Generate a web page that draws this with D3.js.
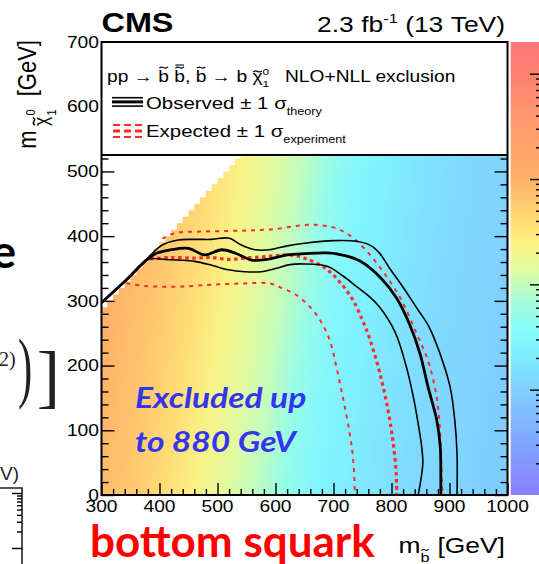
<!DOCTYPE html>
<html>
<head>
<meta charset="utf-8">
<script src="https://cdn.jsdelivr.net/npm/d3@7"></script>
<style>
  html, body { margin: 0; padding: 0; background: #fff; overflow: hidden; }
  svg { display: block; }
</style>
</head>
<body>
<svg id="chart" width="539" height="564"></svg>
<script>
// ---------------- data ----------------
// Axis ranges and tick labels (GeV)
const xTicks = [300, 400, 500, 600, 700, 800, 900, 1000];
const yTicks = [0, 100, 200, 300, 400, 500, 600, 700];

// Observed 95% CL upper limit on the cross section [pb] along m(sbottom)
const limitMass = [300, 350, 400, 450, 500, 550, 600, 650, 700, 750, 800, 850, 900, 950, 1000];
const limitXsec = [1.1, 0.76, 0.57, 0.38, 0.23, 0.155, 0.10, 0.052, 0.030, 0.024, 0.018, 0.014, 0.012, 0.011, 0.0093];

// Exclusion contours: [m(sbottom), m(neutralino)] in GeV
const obsCentral = [[300,297],[340,330],[389,371],[421,379],[450,381],[478,371],[507,379],[530,374],[559,363],[590,365],[620,371],[650,373],[690,374],[720,370],[745,362],[780,337],[809,304],[832,262],[849,219],[863,167],[878,116],[884,75],[885,30],[885,0]];
const obsUp = [[300,297],[350,338],[404,386],[432,394],[461,395],[490,395],[519,397],[542,386],[565,379],[590,379],[620,385],[650,389],[700,393],[740,392],[765,385],[780,373],[797,350],[820,321],[845,287],[864,261],[883,220],[901,167],[909,116],[913,64],[913,0]];
const obsDown = [[300,297],[350,339],[380,364],[410,364],[432,363],[461,361],[490,355],[519,348],[547,345],[576,345],[600,350],[625,356],[650,357],[690,353],[717,338],[740,322],[760,308],[778,292],[806,252],[825,200],[838,150],[846,110],[852,75],[854,49],[850,20],[846,0]];
const expCentral = [[384,365],[420,367],[461,366],[490,367],[519,364],[547,366],[576,368],[600,370],[625,371],[650,366],[685,351],[710,330],[733,302],[750,270],[763,240],[780,188],[794,131],[803,80],[808,35],[809,0]];
const expUp = [[405,396],[427,405],[470,407],[519,408],[560,409],[599,411],[648,417],[677,417],[705,412],[734,397],[763,371],[792,337],[818,300],[843,250],[864,205],[878,150],[884,95],[886,44],[888,0]];
const expDown = [[343,327],[375,323],[432,322],[490,325],[547,327],[590,327],[613,319],[636,309],[659,291],[677,270],[694,238],[705,198],[717,147],[728,95],[734,54],[737,0]];

// Colour palette of the z axis (fraction of the log range -> colour)
const paletteStops  = [0, 0.1, 0.21, 0.32, 0.37, 0.43, 0.5, 0.56, 0.63, 0.7, 0.85, 0.93, 1];
const paletteColors = ["#8a80ff","#80a0ff","#80c8ff","#80f0ff","#88fcf8","#a8fcd8","#e0fca0","#fff080","#ffd070","#ffb068","#ff9570","#ff8070","#ff7a7a"];
const zDomain = [1e-3, 20];

// ---------------- setup ----------------
const SX = 1.2;                       // horizontal stretch of the figure text
const ROOTFONT = "'Liberation Sans', Arial, Helvetica, 'DejaVu Sans', sans-serif";
const SLIDEFONT = "Lato, 'Open Sans', 'Noto Sans', sans-serif";

const svg = d3.select("#chart").style("font-family", ROOTFONT);
const defs = svg.append("defs");

const x = d3.scaleLinear().domain([300, 1000]).range([101.5, 507.5]);
const y = d3.scaleLinear().domain([0, 700]).range([495, 42]);
const zAxisScale = d3.scaleLog().domain(zDomain).range([495, 42]);
const zFrac = d3.scaleLog().domain(zDomain).range([0, 1]).clamp(true);
const palette = d3.scaleLinear().domain(paletteStops).range(paletteColors).interpolate(d3.interpolateRgb);
const colorOf = v => palette(zFrac(v));

defs.append("clipPath").attr("id", "plotClip").append("rect")
  .attr("x", x(300)).attr("y", y(700))
  .attr("width", x(1000) - x(300)).attr("height", y(0) - y(700));

// ---------------- heat map of the limit ----------------
const theta = Math.atan2(40, 280);    // slight tilt of the iso-limit bands
const cT = Math.cos(theta), sT = Math.sin(theta);
const W0 = x(1000) - x(300), yRef = y(250);
const grad = defs.append("linearGradient").attr("id", "xsecFill")
  .attr("gradientUnits", "userSpaceOnUse")
  .attr("x1", x(300)).attr("y1", yRef)
  .attr("x2", x(300) + W0 * cT * cT).attr("y2", yRef + W0 * cT * sT);
limitMass.forEach((m, i) => {
  grad.append("stop").attr("offset", (x(m) - x(300)) / W0).attr("stop-color", colorOf(limitXsec[i]));
});

// kinematically allowed cells (10 GeV binning, m(neutralino) <= m(sbottom) - 10)
const binW = 10;
const hp = d3.path();
hp.moveTo(x(300), y(0));
for (let m = 300; m < 1000; m += binW) {
  const top = Math.min(m - binW, 700);
  hp.lineTo(x(m), y(top));
  hp.lineTo(x(m + binW), y(top));
}
hp.lineTo(x(1000), y(0));
hp.closePath();
svg.append("path").attr("d", hp.toString()).attr("fill", "url(#xsecFill)")
  .attr("clip-path", "url(#plotClip)");

// ---------------- contours ----------------
const line = d3.line().x(d => x(d[0])).y(d => y(d[1])).curve(d3.curveCatmullRom.alpha(0.5));
const contours = svg.append("g").attr("clip-path", "url(#plotClip)").attr("fill", "none");
const RED = "#ff2a2a";
contours.append("path").attr("d", line(expDown)).attr("stroke", RED).attr("stroke-width", 2).attr("stroke-dasharray", "4,5");
contours.append("path").attr("d", line(expUp)).attr("stroke", RED).attr("stroke-width", 2).attr("stroke-dasharray", "4,5");
contours.append("path").attr("d", line(expCentral)).attr("stroke", RED).attr("stroke-width", 3.2).attr("stroke-dasharray", "3.5,3.5");
contours.append("path").attr("d", line(obsUp)).attr("stroke", "#000").attr("stroke-width", 1.6);
contours.append("path").attr("d", line(obsDown)).attr("stroke", "#000").attr("stroke-width", 1.6);
contours.append("path").attr("d", line(obsCentral)).attr("stroke", "#000").attr("stroke-width", 2.8);

// ---------------- axes ticks ----------------
function styleTicks(g) {
  g.select(".domain").remove();
  g.selectAll("text").remove();
  g.selectAll("line").attr("stroke", "#000").attr("stroke-width", 1.4);
}
const yMinor = d3.range(0, 701, 20).filter(v => v % 100 !== 0);
const xMinor = d3.range(300, 1001, 20).filter(v => v % 100 !== 0);
svg.append("g").attr("transform", `translate(${x(300)},0)`).call(d3.axisRight(y).tickValues(yTicks).tickSize(13)).call(styleTicks);
svg.append("g").attr("transform", `translate(${x(300)},0)`).call(d3.axisRight(y).tickValues(yMinor).tickSize(7)).call(styleTicks);
svg.append("g").attr("transform", `translate(${x(1000)},0)`).call(d3.axisLeft(y).tickValues(yTicks).tickSize(13)).call(styleTicks);
svg.append("g").attr("transform", `translate(${x(1000)},0)`).call(d3.axisLeft(y).tickValues(yMinor).tickSize(7)).call(styleTicks);
svg.append("g").attr("transform", `translate(0,${y(0)})`).call(d3.axisTop(x).tickValues(xTicks).tickSize(12)).call(styleTicks);
svg.append("g").attr("transform", `translate(0,${y(0)})`).call(d3.axisTop(x).tickValues(xMinor).tickSize(6)).call(styleTicks);

// ---------------- text helpers ----------------
function accent(g, cx, base, fs, kind, fill) {
  const w = 0.45 * fs, h = 0.08 * fs;
  const cy = base - (kind === "tx" ? 0.66 : 0.9) * fs;
  g.append("path")
    .attr("d", `M${cx - w/2},${cy + h/2} Q${cx - w/4},${cy - h} ${cx},${cy} Q${cx + w/4},${cy + h} ${cx + w/2},${cy - h/2}`)
    .attr("fill", "none").attr("stroke", fill).attr("stroke-width", Math.max(1, fs * 0.07));
  if (kind === "tbb") {
    g.append("line").attr("x1", cx - w/2).attr("x2", cx + w/2)
      .attr("y1", cy - 0.16 * fs).attr("y2", cy - 0.16 * fs)
      .attr("stroke", fill).attr("stroke-width", Math.max(1, fs * 0.07));
  }
}
function typeset(parent, tokens, size, fill) {
  const g = parent.append("g");
  let cx = 0;
  for (const tk of tokens) {
    if (tk.gap) { cx += tk.gap * size; continue; }
    const fs = size * (tk.s || 1);
    const base = (tk.dy || 0) * size;
    const t = g.append("text").attr("x", cx).attr("y", base)
      .attr("fill", fill).style("font-size", fs + "px").text(tk.t);
    const w = t.node().getComputedTextLength();
    if (tk.acc) accent(g, cx + w / 2 + (tk.ax || 0) * fs, base, fs, tk.acc, fill);
    if (!tk.hold) cx += w;
  }
  return { g, width: cx };
}
function rootText(px, py, tokens, size, opts = {}) {
  const outer = svg.append("g");
  const r = typeset(outer, tokens, size, opts.fill || "#000");
  if (opts.weight) r.g.style("font-weight", opts.weight);
  const w = r.width * SX;
  const x0 = opts.anchor === "end" ? px - w : opts.anchor === "middle" ? px - w / 2 : px;
  outer.attr("transform", `translate(${x0},${py}) scale(${SX},1)`);
  return outer;
}

// ---------------- tick labels ----------------
xTicks.forEach(v => rootText(x(v), 512, [{ t: String(v) }], 16, { anchor: "middle" }));
yTicks.forEach(v => rootText(99, y(v) + 5.7, [{ t: String(v) }], 16, { anchor: "end" }));

// ---------------- legend box ----------------
const legTop = y(700), legBottom = 155;
svg.append("rect").attr("x", x(300)).attr("y", legTop)
  .attr("width", x(1000) - x(300)).attr("height", legBottom - legTop)
  .attr("fill", "#fff");
svg.append("line").attr("x1", x(300)).attr("x2", x(1000)).attr("y1", legBottom).attr("y2", legBottom)
  .attr("stroke", "#000").attr("stroke-width", 2);

rootText(107, 82, [
  { t: "pp" }, { gap: 0.28 }, { t: "→" }, { gap: 0.28 },
  { t: "b", acc: "tb" }, { gap: 0.28 }, { t: "b", acc: "tbb" }, { t: "," }, { gap: 0.28 },
  { t: "b", acc: "tb" }, { gap: 0.28 }, { t: "→" }, { gap: 0.28 }, { t: "b" }, { gap: 0.28 },
  { t: "χ", acc: "tx" }, { t: "0", s: 0.62, dy: -0.45, hold: true }, { t: "1", s: 0.62, dy: 0.3 }
], 16);
rootText(285, 82, [{ t: "NLO+NLL exclusion" }], 16);

// legend symbols
const sym = svg.append("g").attr("fill", "none");
[[97.7, 1.6], [101.9, 3], [106.1, 1.6]].forEach(([yy, w]) =>
  sym.append("line").attr("x1", 112).attr("x2", 143).attr("y1", yy).attr("y2", yy)
    .attr("stroke", "#000").attr("stroke-width", w));
[[125, 2.2], [131, 3], [137, 2.2]].forEach(([yy, w]) =>
  sym.append("line").attr("x1", 113).attr("x2", 143).attr("y1", yy).attr("y2", yy)
    .attr("stroke", RED).attr("stroke-width", w).attr("stroke-dasharray", "7,4"));

rootText(146, 109, [{ t: "Observed" }, { gap: 0.28 }, { t: "±" }, { gap: 0.28 }, { t: "1" }, { gap: 0.28 }, { t: "σ" }, { t: "theory", s: 0.62, dy: 0.33 }], 17);
rootText(146, 137, [{ t: "Expected" }, { gap: 0.28 }, { t: "±" }, { gap: 0.28 }, { t: "1" }, { gap: 0.28 }, { t: "σ" }, { t: "experiment", s: 0.62, dy: 0.33 }], 17);

// ---------------- frame ----------------
svg.append("rect").attr("x", x(300)).attr("y", y(700))
  .attr("width", x(1000) - x(300)).attr("height", y(0) - y(700))
  .attr("fill", "none").attr("stroke", "#000").attr("stroke-width", 2);

// ---------------- z-axis palette ----------------
const zg = defs.append("linearGradient").attr("id", "zPalette").attr("x1", 0).attr("x2", 0).attr("y1", 1).attr("y2", 0);
paletteStops.forEach((t, i) => zg.append("stop").attr("offset", t).attr("stop-color", paletteColors[i]));
const zLeft = 510.7, zRight = 541;
svg.append("rect").attr("x", zLeft).attr("y", zAxisScale(zDomain[1]))
  .attr("width", zRight - zLeft).attr("height", zAxisScale(zDomain[0]) - zAxisScale(zDomain[1]))
  .attr("fill", "url(#zPalette)");
const zMajor = [1e-2, 1e-1, 1, 10];
const zMinor = [];
[1e-3, 1e-2, 1e-1, 1, 10].forEach(d => d3.range(2, 10).forEach(k => { if (d * k < zDomain[1]) zMinor.push(d * k); }));
svg.append("g").attr("transform", `translate(${zRight},0)`).call(d3.axisLeft(zAxisScale).tickValues(zMajor).tickSize(11)).call(styleTicks);
svg.append("g").attr("transform", `translate(${zRight},0)`).call(d3.axisLeft(zAxisScale).tickValues(zMinor).tickSize(5)).call(styleTicks);

// ---------------- titles ----------------
rootText(101.5, 32, [{ t: "CMS" }], 27, { weight: "bold" });
rootText(505, 32, [{ t: "2.3" }, { gap: 0.28 }, { t: "fb" }, { t: "-1", s: 0.62, dy: -0.42 }, { gap: 0.28 }, { t: "(13" }, { gap: 0.28 }, { t: "TeV)" }], 22, { anchor: "end" });

// x-axis title (right aligned)
rootText(505, 553, [{ t: "m" }, { t: "b", s: 0.62, dy: 0.42, acc: "tb" }, { gap: 0.3 }, { t: "[GeV]" }], 22, { anchor: "end" });

// y-axis title (rotated, aligned to the top of the axis)
{
  const outer = svg.append("g");
  const r = typeset(outer, [
    { t: "m" }, { gap: 0.2 }, { t: "χ", s: 0.8, dy: 0.45, acc: "tx" }, { gap: 0.05 },
    { t: "0", s: 0.5, dy: -0.05, hold: true }, { t: "1", s: 0.5, dy: 0.75 },
    { gap: 0.6 }, { t: "[GeV]" }
  ], 22, "#000");
  outer.attr("transform", `translate(36,${40 + r.width}) rotate(-90) scale(1,${SX})`);
}

// ---------------- annotations on the slide ----------------
const note = svg.append("g").style("font-family", SLIDEFONT).style("font-weight", "bold").style("font-style", "italic")
  .attr("fill", "#3535f0").style("font-size", "28px");
note.append("text").attr("transform", "translate(135,408) scale(1.2,1)").text("Excluded up");
note.append("text").attr("transform", "translate(135,452) scale(1.2,1)").text("to 880 GeV");

svg.append("text").attr("x", 90).attr("y", 557).attr("fill", "#ff0000")
  .style("font-family", SLIDEFONT).style("font-weight", "bold").style("font-size", "44px")
  .text("bottom squark");

// fragments of neighbouring slide content
svg.append("text").attr("x", 16).attr("y", 268).attr("text-anchor", "end")
  .style("font-family", SLIDEFONT).style("font-weight", "bold").style("font-size", "46px").attr("fill", "#000").text("e");
const frag = svg.append("g").style("font-family", "'Liberation Serif', 'DejaVu Serif', serif").attr("fill", "#222");
frag.append("text").attr("x", -1).attr("y", 366).style("font-size", "20px").text("2)");
frag.append("text").attr("transform", "translate(18,393) scale(0.55,1)").style("font-size", "78px").text(")");
frag.append("text").attr("x", 60).attr("y", 400).attr("text-anchor", "end").style("font-size", "70px").text("]");
svg.append("text").attr("x", 0).attr("y", 480).style("font-size", "19px").attr("fill", "#222").text("V)");

// small neighbouring plot frame with a log axis
const side = svg.append("g").attr("stroke", "#222").attr("fill", "none");
side.append("path").attr("d", "M-2,488 H22 V566").attr("stroke-width", 1.6);
const sideScale = d3.scaleLog().domain([1, 10]).range([548, 493]);
svg.append("g").attr("transform", "translate(22,0)")
  .call(d3.axisLeft(sideScale).tickValues([1, 10]).tickSize(10)).call(styleTicks);
svg.append("g").attr("transform", "translate(22,0)")
  .call(d3.axisLeft(sideScale).tickValues(d3.range(2, 10)).tickSize(5)).call(styleTicks);
</script>
</body>
</html>
